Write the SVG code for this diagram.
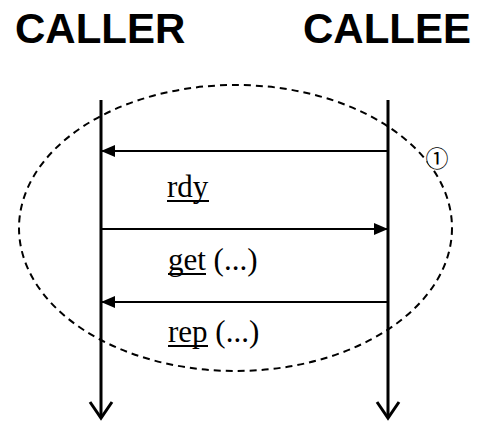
<svg xmlns="http://www.w3.org/2000/svg" width="479" height="421" viewBox="0 0 479 421">
<style>
.hdr{font-family:"Liberation Sans",Arial,sans-serif;font-weight:bold;font-size:42px;fill:#000}
.lbl{font-family:"Liberation Serif","Times New Roman",serif;font-size:31px;fill:#000}
.life{stroke:#000;stroke-width:3;fill:none}
.msg{stroke:#000;stroke-width:2.2;fill:none}
.ul{stroke:#000;stroke-width:1.8}
</style>
<defs>
<marker id="fh" viewBox="0 0 14 12" refX="14" refY="6" markerWidth="14" markerHeight="12" markerUnits="userSpaceOnUse" orient="auto">
<path d="M0,0 L14,6 L0,12 Z" fill="#000"/>
</marker>
</defs>
<rect width="479" height="421" fill="#fff"/>
<g id="caller">
<text class="hdr" x="15" y="43">CALLER</text>
<line class="life" x1="101" y1="100" x2="101" y2="418"/>
<polyline class="life" points="90,402 101,418 112,402"/>
</g>
<g id="callee">
<text class="hdr" x="303" y="43">CALLEE</text>
<line class="life" x1="388" y1="100" x2="388" y2="418"/>
<polyline class="life" points="377,402 388,418 399,402"/>
</g>
<g id="group1">
<ellipse cx="235.5" cy="228" rx="216.5" ry="143" fill="none" stroke="#000" stroke-width="2" stroke-dasharray="7,5"/>
<circle cx="437" cy="159" r="10" fill="#fff" stroke="none"/>
<text x="437" y="167" text-anchor="middle" font-family="'Noto Sans CJK JP',sans-serif" font-size="23">①</text>
</g>
<g id="connectors">
<line class="msg" x1="388" y1="151" x2="101" y2="151" marker-end="url(#fh)"/>
<line class="msg" x1="101" y1="229" x2="388" y2="229" marker-end="url(#fh)"/>
<line class="msg" x1="388" y1="302" x2="101" y2="302" marker-end="url(#fh)"/>
<text class="lbl" x="167" y="197">rdy</text>
<line class="ul" x1="167" y1="201" x2="209" y2="201"/>
<text class="lbl" x="168" y="270">get (...)</text>
<line class="ul" x1="168" y1="274" x2="206" y2="274"/>
<text class="lbl" x="168" y="342">rep (...)</text>
<line class="ul" x1="168" y1="346" x2="208" y2="346"/>
</g>
</svg>
